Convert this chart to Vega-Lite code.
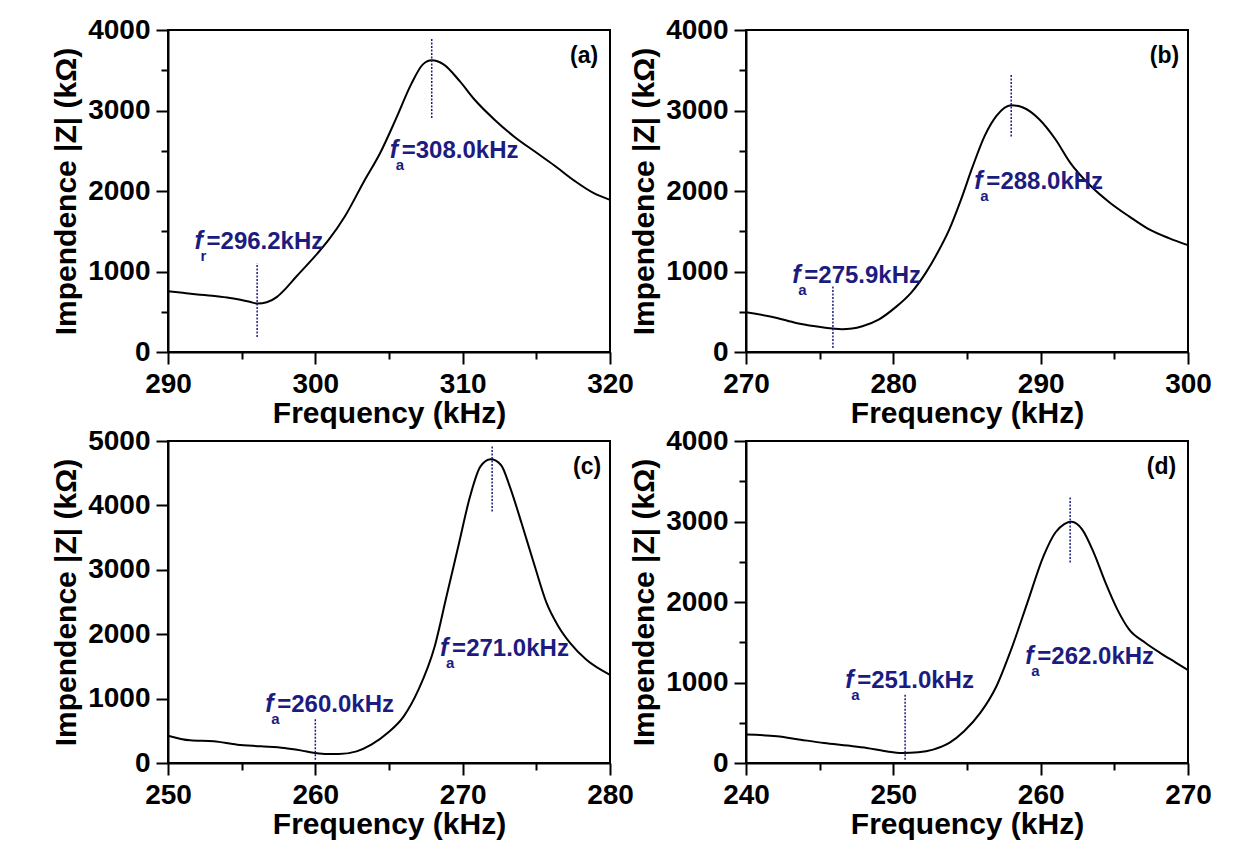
{
  "$schema": "https://vega.github.io/schema/vega-lite/v6.json",
  "background": "white",
  "padding": {"left": 50, "top": 15, "right": 5, "bottom": 5},
  "config": {
    "font": "Liberation Sans",
    "view": {"stroke": "black", "strokeWidth": 2},
    "axis": {
      "domainColor": "black", "domainWidth": 2, "tickColor": "black", "tickWidth": 2,
      "tickSize": {"condition": {"test": "datum.value % 10 === 0", "value": 12}, "value": 7},
      "labelFont": "Liberation Sans", "labelFontSize": 28, "labelFontWeight": "bold", "labelColor": "black",
      "titleFont": "Liberation Sans", "titleFontSize": 30, "titleFontWeight": "bold", "titleColor": "black",
      "grid": false, "labelOverlap": false, "labelFlush": false
    },
    "axisX": {"labelPadding": 6, "titlePadding": 0},
    "axisY": {"labelPadding": 6, "titlePadding": 6}
  },
  "datasets": {
    "curves": [
      {"panel": "a", "f": 290, "z": 756}, {"panel": "a", "f": 291, "z": 735}, {"panel": "a", "f": 292, "z": 715}, {"panel": "a", "f": 293, "z": 698}, {"panel": "a", "f": 294, "z": 676}, {"panel": "a", "f": 295, "z": 645}, {"panel": "a", "f": 295.6, "z": 620}, {"panel": "a", "f": 296.1, "z": 603}, {"panel": "a", "f": 296.7, "z": 618}, {"panel": "a", "f": 297.4, "z": 685}, {"panel": "a", "f": 298, "z": 790}, {"panel": "a", "f": 298.7, "z": 935}, {"panel": "a", "f": 300.1, "z": 1215}, {"panel": "a", "f": 300.9, "z": 1392}, {"panel": "a", "f": 302, "z": 1683}, {"panel": "a", "f": 303.3, "z": 2119}, {"panel": "a", "f": 304.4, "z": 2472}, {"panel": "a", "f": 305.5, "z": 2908}, {"panel": "a", "f": 306.5, "z": 3324}, {"panel": "a", "f": 307.3, "z": 3573}, {"panel": "a", "f": 307.9, "z": 3623}, {"panel": "a", "f": 308.7, "z": 3573}, {"panel": "a", "f": 309.8, "z": 3365}, {"panel": "a", "f": 310.8, "z": 3137}, {"panel": "a", "f": 312.2, "z": 2880}, {"panel": "a", "f": 313.5, "z": 2675}, {"panel": "a", "f": 314.9, "z": 2490}, {"panel": "a", "f": 316.2, "z": 2320}, {"panel": "a", "f": 317.6, "z": 2125}, {"panel": "a", "f": 318.9, "z": 1973}, {"panel": "a", "f": 320, "z": 1890},
      {"panel": "b", "f": 270, "z": 494}, {"panel": "b", "f": 272.1, "z": 423}, {"panel": "b", "f": 273.4, "z": 361}, {"panel": "b", "f": 274.7, "z": 320}, {"panel": "b", "f": 275.9, "z": 292}, {"panel": "b", "f": 276.5, "z": 284}, {"panel": "b", "f": 277.2, "z": 292}, {"panel": "b", "f": 277.9, "z": 320}, {"panel": "b", "f": 279.0, "z": 402}, {"panel": "b", "f": 280.1, "z": 548}, {"panel": "b", "f": 281.2, "z": 734}, {"panel": "b", "f": 282.2, "z": 983}, {"panel": "b", "f": 283.0, "z": 1232}, {"panel": "b", "f": 283.8, "z": 1523}, {"panel": "b", "f": 284.6, "z": 1896}, {"panel": "b", "f": 285.4, "z": 2311}, {"panel": "b", "f": 286.2, "z": 2685}, {"panel": "b", "f": 287.0, "z": 2934}, {"panel": "b", "f": 288.0, "z": 3066}, {"panel": "b", "f": 288.8, "z": 3037}, {"panel": "b", "f": 289.9, "z": 2892}, {"panel": "b", "f": 291.0, "z": 2643}, {"panel": "b", "f": 292.0, "z": 2353}, {"panel": "b", "f": 293.4, "z": 2062}, {"panel": "b", "f": 294.7, "z": 1855}, {"panel": "b", "f": 296.0, "z": 1685}, {"panel": "b", "f": 297.3, "z": 1530}, {"panel": "b", "f": 298.7, "z": 1415}, {"panel": "b", "f": 300, "z": 1328},
      {"panel": "c", "f": 250, "z": 424}, {"panel": "c", "f": 251.5, "z": 352}, {"panel": "c", "f": 253.1, "z": 336}, {"panel": "c", "f": 254.7, "z": 284}, {"panel": "c", "f": 256.3, "z": 259}, {"panel": "c", "f": 257.9, "z": 233}, {"panel": "c", "f": 259.0, "z": 196}, {"panel": "c", "f": 260.0, "z": 155}, {"panel": "c", "f": 260.8, "z": 140}, {"panel": "c", "f": 261.6, "z": 140}, {"panel": "c", "f": 262.8, "z": 181}, {"panel": "c", "f": 263.8, "z": 284}, {"panel": "c", "f": 264.9, "z": 465}, {"panel": "c", "f": 266.0, "z": 724}, {"panel": "c", "f": 267.0, "z": 1138}, {"panel": "c", "f": 268.1, "z": 1810}, {"panel": "c", "f": 268.9, "z": 2585}, {"panel": "c", "f": 269.7, "z": 3361}, {"panel": "c", "f": 270.5, "z": 4137}, {"panel": "c", "f": 271.2, "z": 4602}, {"panel": "c", "f": 271.9, "z": 4716}, {"panel": "c", "f": 272.6, "z": 4628}, {"panel": "c", "f": 273.2, "z": 4292}, {"panel": "c", "f": 274.0, "z": 3723}, {"panel": "c", "f": 274.9, "z": 3051}, {"panel": "c", "f": 275.7, "z": 2482}, {"panel": "c", "f": 276.5, "z": 2120}, {"panel": "c", "f": 277.3, "z": 1861}, {"panel": "c", "f": 278.4, "z": 1603}, {"panel": "c", "f": 280, "z": 1370},
      {"panel": "d", "f": 240, "z": 353}, {"panel": "d", "f": 242.1, "z": 332}, {"panel": "d", "f": 243.7, "z": 290}, {"panel": "d", "f": 245.3, "z": 249}, {"panel": "d", "f": 246.9, "z": 216}, {"panel": "d", "f": 248.2, "z": 187}, {"panel": "d", "f": 249.5, "z": 145}, {"panel": "d", "f": 250.6, "z": 124}, {"panel": "d", "f": 251.7, "z": 133}, {"panel": "d", "f": 252.7, "z": 166}, {"panel": "d", "f": 253.8, "z": 249}, {"panel": "d", "f": 254.8, "z": 394}, {"panel": "d", "f": 255.9, "z": 622}, {"panel": "d", "f": 257.0, "z": 954}, {"panel": "d", "f": 258.0, "z": 1411}, {"panel": "d", "f": 259.1, "z": 1992}, {"panel": "d", "f": 260.2, "z": 2573}, {"panel": "d", "f": 261.0, "z": 2863}, {"panel": "d", "f": 261.6, "z": 2967}, {"panel": "d", "f": 262.1, "z": 2996}, {"panel": "d", "f": 262.8, "z": 2905}, {"panel": "d", "f": 263.6, "z": 2614}, {"panel": "d", "f": 264.4, "z": 2241}, {"panel": "d", "f": 265.2, "z": 1909}, {"panel": "d", "f": 266.0, "z": 1660}, {"panel": "d", "f": 267.1, "z": 1494}, {"panel": "d", "f": 268.1, "z": 1369}, {"panel": "d", "f": 269.2, "z": 1245}, {"panel": "d", "f": 270, "z": 1154}
    ],
    "rules": [
      {"panel": "a", "f": 296.05, "z0": 187, "z1": 1101}, {"panel": "a", "f": 307.9, "z0": 2908, "z1": 3905},
      {"panel": "b", "f": 275.9, "z0": 50, "z1": 826}, {"panel": "b", "f": 288.0, "z0": 2676, "z1": 3440},
      {"panel": "c", "f": 260.0, "z0": 52, "z1": 683}, {"panel": "c", "f": 272.0, "z0": 3904, "z1": 4922},
      {"panel": "d", "f": 250.8, "z0": 41, "z1": 851}, {"panel": "d", "f": 262.0, "z0": 2490, "z1": 3299}
    ],
    "ann": [
      {"panel": "a", "f": 291.8, "z": 1280, "sym": "f", "sub": "r", "val": "=296.2kHz"},
      {"panel": "a", "f": 305.05, "z": 2410, "sym": "f", "sub": "a", "val": "=308.0kHz"},
      {"panel": "b", "f": 273.14, "z": 851, "sym": "f", "sub": "a", "val": "=275.9kHz"},
      {"panel": "b", "f": 285.5, "z": 2021, "sym": "f", "sub": "a", "val": "=288.0kHz"},
      {"panel": "c", "f": 256.6, "z": 786, "sym": "f", "sub": "a", "val": "=260.0kHz"},
      {"panel": "c", "f": 268.47, "z": 1655, "sym": "f", "sub": "a", "val": "=271.0kHz"},
      {"panel": "d", "f": 246.73, "z": 934, "sym": "f", "sub": "a", "val": "=251.0kHz"},
      {"panel": "d", "f": 258.96, "z": 1224, "sym": "f", "sub": "a", "val": "=262.0kHz"}
    ],
    "tags": [
      {"panel": "a", "f": 319.2, "z": 3590, "tag": "(a)"},
      {"panel": "b", "f": 299.4, "z": 3590, "tag": "(b)"},
      {"panel": "c", "f": 279.4, "z": 4490, "tag": "(c)"},
      {"panel": "d", "f": 269.2, "z": 3590, "tag": "(d)"}
    ]
  },
  "concat": [
    {
      "width": 442, "height": 322,
      "layer": [
        {"data": {"name": "curves"}, "transform": [{"filter": "datum.panel === 'a'"}],
         "mark": {"type": "line", "color": "black", "strokeWidth": 2, "interpolate": "monotone"},
         "encoding": {
           "x": {"field": "f", "type": "quantitative", "scale": {"domain": [290, 320], "nice": false},
                 "axis": {"title": "Frequency (kHz)", "values": [290, 295, 300, 305, 310, 315, 320], "format": "d", "labelExpr": "datum.value % 10 === 0 ? datum.label : ''"}},
           "y": {"field": "z", "type": "quantitative", "scale": {"domain": [0, 4000], "nice": false},
                 "axis": {"title": "Impendence |Z| (kΩ)", "values": [0, 500, 1000, 1500, 2000, 2500, 3000, 3500, 4000], "format": "d", "labelExpr": "datum.value % 1000 === 0 ? datum.label : ''", "tickSize": {"condition": {"test": "datum.value % 1000 === 0", "value": 12}, "value": 7}}}
         }},
        {"data": {"name": "rules"}, "transform": [{"filter": "datum.panel === 'a'"}],
         "mark": {"type": "rule", "color": "#1c1c80", "strokeWidth": 1.5, "strokeDash": [2, 1.5]},
         "encoding": {"x": {"field": "f", "type": "quantitative"}, "y": {"field": "z0", "type": "quantitative"}, "y2": {"field": "z1"}}},
        {"data": {"name": "ann"}, "transform": [{"filter": "datum.panel === 'a'"}],
         "mark": {"type": "text", "align": "left", "baseline": "alphabetic", "fontSize": 25, "fontWeight": "bold", "fontStyle": "italic", "color": "#1c1c80"},
         "encoding": {"x": {"field": "f", "type": "quantitative"}, "y": {"field": "z", "type": "quantitative"}, "text": {"field": "sym"}}},
        {"data": {"name": "ann"}, "transform": [{"filter": "datum.panel === 'a'"}],
         "mark": {"type": "text", "align": "left", "baseline": "alphabetic", "fontSize": 15, "fontWeight": "bold", "dx": 6, "dy": 12, "color": "#1c1c80"},
         "encoding": {"x": {"field": "f", "type": "quantitative"}, "y": {"field": "z", "type": "quantitative"}, "text": {"field": "sub"}}},
        {"data": {"name": "ann"}, "transform": [{"filter": "datum.panel === 'a'"}],
         "mark": {"type": "text", "align": "left", "baseline": "alphabetic", "fontSize": 24, "fontWeight": "bold", "dx": 12, "color": "#1c1c80"},
         "encoding": {"x": {"field": "f", "type": "quantitative"}, "y": {"field": "z", "type": "quantitative"}, "text": {"field": "val"}}},
        {"data": {"name": "tags"}, "transform": [{"filter": "datum.panel === 'a'"}],
         "mark": {"type": "text", "align": "right", "baseline": "alphabetic", "fontSize": 23, "fontWeight": "bold", "color": "black"},
         "encoding": {"x": {"field": "f", "type": "quantitative"}, "y": {"field": "z", "type": "quantitative"}, "text": {"field": "tag"}}}
      ]
    },
    {
      "width": 442, "height": 322,
      "layer": [
        {"data": {"name": "curves"}, "transform": [{"filter": "datum.panel === 'b'"}],
         "mark": {"type": "line", "color": "black", "strokeWidth": 2, "interpolate": "monotone"},
         "encoding": {
           "x": {"field": "f", "type": "quantitative", "scale": {"domain": [270, 300], "nice": false},
                 "axis": {"title": "Frequency (kHz)", "values": [270, 275, 280, 285, 290, 295, 300], "format": "d", "labelExpr": "datum.value % 10 === 0 ? datum.label : ''"}},
           "y": {"field": "z", "type": "quantitative", "scale": {"domain": [0, 4000], "nice": false},
                 "axis": {"title": "Impendence |Z| (kΩ)", "values": [0, 500, 1000, 1500, 2000, 2500, 3000, 3500, 4000], "format": "d", "labelExpr": "datum.value % 1000 === 0 ? datum.label : ''", "tickSize": {"condition": {"test": "datum.value % 1000 === 0", "value": 12}, "value": 7}}}
         }},
        {"data": {"name": "rules"}, "transform": [{"filter": "datum.panel === 'b'"}],
         "mark": {"type": "rule", "color": "#1c1c80", "strokeWidth": 1.5, "strokeDash": [2, 1.5]},
         "encoding": {"x": {"field": "f", "type": "quantitative"}, "y": {"field": "z0", "type": "quantitative"}, "y2": {"field": "z1"}}},
        {"data": {"name": "ann"}, "transform": [{"filter": "datum.panel === 'b'"}],
         "mark": {"type": "text", "align": "left", "baseline": "alphabetic", "fontSize": 25, "fontWeight": "bold", "fontStyle": "italic", "color": "#1c1c80"},
         "encoding": {"x": {"field": "f", "type": "quantitative"}, "y": {"field": "z", "type": "quantitative"}, "text": {"field": "sym"}}},
        {"data": {"name": "ann"}, "transform": [{"filter": "datum.panel === 'b'"}],
         "mark": {"type": "text", "align": "left", "baseline": "alphabetic", "fontSize": 15, "fontWeight": "bold", "dx": 6, "dy": 12, "color": "#1c1c80"},
         "encoding": {"x": {"field": "f", "type": "quantitative"}, "y": {"field": "z", "type": "quantitative"}, "text": {"field": "sub"}}},
        {"data": {"name": "ann"}, "transform": [{"filter": "datum.panel === 'b'"}],
         "mark": {"type": "text", "align": "left", "baseline": "alphabetic", "fontSize": 24, "fontWeight": "bold", "dx": 12, "color": "#1c1c80"},
         "encoding": {"x": {"field": "f", "type": "quantitative"}, "y": {"field": "z", "type": "quantitative"}, "text": {"field": "val"}}},
        {"data": {"name": "tags"}, "transform": [{"filter": "datum.panel === 'b'"}],
         "mark": {"type": "text", "align": "right", "baseline": "alphabetic", "fontSize": 23, "fontWeight": "bold", "color": "black"},
         "encoding": {"x": {"field": "f", "type": "quantitative"}, "y": {"field": "z", "type": "quantitative"}, "text": {"field": "tag"}}}
      ]
    },
    {
      "width": 442, "height": 322,
      "layer": [
        {"data": {"name": "curves"}, "transform": [{"filter": "datum.panel === 'c'"}],
         "mark": {"type": "line", "color": "black", "strokeWidth": 2, "interpolate": "monotone"},
         "encoding": {
           "x": {"field": "f", "type": "quantitative", "scale": {"domain": [250, 280], "nice": false},
                 "axis": {"title": "Frequency (kHz)", "values": [250, 255, 260, 265, 270, 275, 280], "format": "d", "labelExpr": "datum.value % 10 === 0 ? datum.label : ''"}},
           "y": {"field": "z", "type": "quantitative", "scale": {"domain": [0, 5000], "nice": false},
                 "axis": {"title": "Impendence |Z| (kΩ)", "values": [0, 500, 1000, 1500, 2000, 2500, 3000, 3500, 4000, 4500, 5000], "format": "d", "labelExpr": "datum.value % 1000 === 0 ? datum.label : ''", "tickSize": {"condition": {"test": "datum.value % 1000 === 0", "value": 12}, "value": 7}}}
         }},
        {"data": {"name": "rules"}, "transform": [{"filter": "datum.panel === 'c'"}],
         "mark": {"type": "rule", "color": "#1c1c80", "strokeWidth": 1.5, "strokeDash": [2, 1.5]},
         "encoding": {"x": {"field": "f", "type": "quantitative"}, "y": {"field": "z0", "type": "quantitative"}, "y2": {"field": "z1"}}},
        {"data": {"name": "ann"}, "transform": [{"filter": "datum.panel === 'c'"}],
         "mark": {"type": "text", "align": "left", "baseline": "alphabetic", "fontSize": 25, "fontWeight": "bold", "fontStyle": "italic", "color": "#1c1c80"},
         "encoding": {"x": {"field": "f", "type": "quantitative"}, "y": {"field": "z", "type": "quantitative"}, "text": {"field": "sym"}}},
        {"data": {"name": "ann"}, "transform": [{"filter": "datum.panel === 'c'"}],
         "mark": {"type": "text", "align": "left", "baseline": "alphabetic", "fontSize": 15, "fontWeight": "bold", "dx": 6, "dy": 12, "color": "#1c1c80"},
         "encoding": {"x": {"field": "f", "type": "quantitative"}, "y": {"field": "z", "type": "quantitative"}, "text": {"field": "sub"}}},
        {"data": {"name": "ann"}, "transform": [{"filter": "datum.panel === 'c'"}],
         "mark": {"type": "text", "align": "left", "baseline": "alphabetic", "fontSize": 24, "fontWeight": "bold", "dx": 12, "color": "#1c1c80"},
         "encoding": {"x": {"field": "f", "type": "quantitative"}, "y": {"field": "z", "type": "quantitative"}, "text": {"field": "val"}}},
        {"data": {"name": "tags"}, "transform": [{"filter": "datum.panel === 'c'"}],
         "mark": {"type": "text", "align": "right", "baseline": "alphabetic", "fontSize": 23, "fontWeight": "bold", "color": "black"},
         "encoding": {"x": {"field": "f", "type": "quantitative"}, "y": {"field": "z", "type": "quantitative"}, "text": {"field": "tag"}}}
      ]
    },
    {
      "width": 442, "height": 322,
      "layer": [
        {"data": {"name": "curves"}, "transform": [{"filter": "datum.panel === 'd'"}],
         "mark": {"type": "line", "color": "black", "strokeWidth": 2, "interpolate": "monotone"},
         "encoding": {
           "x": {"field": "f", "type": "quantitative", "scale": {"domain": [240, 270], "nice": false},
                 "axis": {"title": "Frequency (kHz)", "values": [240, 245, 250, 255, 260, 265, 270], "format": "d", "labelExpr": "datum.value % 10 === 0 ? datum.label : ''"}},
           "y": {"field": "z", "type": "quantitative", "scale": {"domain": [0, 4000], "nice": false},
                 "axis": {"title": "Impendence |Z| (kΩ)", "values": [0, 500, 1000, 1500, 2000, 2500, 3000, 3500, 4000], "format": "d", "labelExpr": "datum.value % 1000 === 0 ? datum.label : ''", "tickSize": {"condition": {"test": "datum.value % 1000 === 0", "value": 12}, "value": 7}}}
         }},
        {"data": {"name": "rules"}, "transform": [{"filter": "datum.panel === 'd'"}],
         "mark": {"type": "rule", "color": "#1c1c80", "strokeWidth": 1.5, "strokeDash": [2, 1.5]},
         "encoding": {"x": {"field": "f", "type": "quantitative"}, "y": {"field": "z0", "type": "quantitative"}, "y2": {"field": "z1"}}},
        {"data": {"name": "ann"}, "transform": [{"filter": "datum.panel === 'd'"}],
         "mark": {"type": "text", "align": "left", "baseline": "alphabetic", "fontSize": 25, "fontWeight": "bold", "fontStyle": "italic", "color": "#1c1c80"},
         "encoding": {"x": {"field": "f", "type": "quantitative"}, "y": {"field": "z", "type": "quantitative"}, "text": {"field": "sym"}}},
        {"data": {"name": "ann"}, "transform": [{"filter": "datum.panel === 'd'"}],
         "mark": {"type": "text", "align": "left", "baseline": "alphabetic", "fontSize": 15, "fontWeight": "bold", "dx": 6, "dy": 12, "color": "#1c1c80"},
         "encoding": {"x": {"field": "f", "type": "quantitative"}, "y": {"field": "z", "type": "quantitative"}, "text": {"field": "sub"}}},
        {"data": {"name": "ann"}, "transform": [{"filter": "datum.panel === 'd'"}],
         "mark": {"type": "text", "align": "left", "baseline": "alphabetic", "fontSize": 24, "fontWeight": "bold", "dx": 12, "color": "#1c1c80"},
         "encoding": {"x": {"field": "f", "type": "quantitative"}, "y": {"field": "z", "type": "quantitative"}, "text": {"field": "val"}}},
        {"data": {"name": "tags"}, "transform": [{"filter": "datum.panel === 'd'"}],
         "mark": {"type": "text", "align": "right", "baseline": "alphabetic", "fontSize": 23, "fontWeight": "bold", "color": "black"},
         "encoding": {"x": {"field": "f", "type": "quantitative"}, "y": {"field": "z", "type": "quantitative"}, "text": {"field": "tag"}}}
      ]
    }
  ],
  "columns": 2,
  "spacing": {"row": 89, "column": 136},
  "bounds": "flush"
}
